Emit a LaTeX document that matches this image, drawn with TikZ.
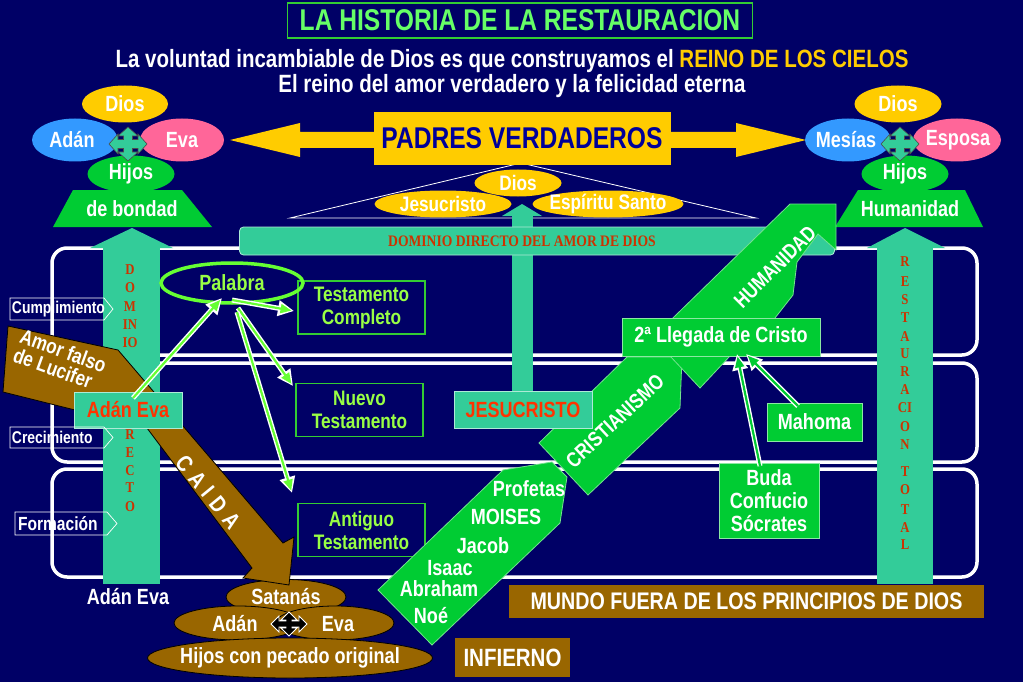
\documentclass[tikz,border=0pt]{standalone}
\usepackage{fontspec}
\setmainfont{Liberation Sans}[FakeStretch=0.82]
\newfontfamily\srf{Liberation Serif}[FakeStretch=0.85]
\usetikzlibrary{shapes.geometric,arrows.meta}
\definecolor{bg}{HTML}{000066}
\definecolor{teal2}{HTML}{33CC99}
\definecolor{grn}{HTML}{00CC33}
\definecolor{yel}{HTML}{FFCC00}
\definecolor{blu}{HTML}{3399FF}
\definecolor{pnk}{HTML}{FF6699}
\definecolor{brn}{HTML}{996600}
\definecolor{lgrn}{HTML}{99FF44}
\definecolor{pgrn}{HTML}{66FF33}
\definecolor{ttl}{HTML}{66FF66}
\definecolor{ttlb}{HTML}{33CC33}
\definecolor{red2}{HTML}{FF3300}
\definecolor{dred}{HTML}{CC3300}
\definecolor{navytxt}{HTML}{000099}
\newcommand\fsz[2]{\fontsize{#1}{#2}\selectfont}
% #1 x, #2 y, #3 half width, #4 half height, #5 shaft, #6 head half width, #7 head length, #8 style
\newcommand\fourway[8]{%
\draw[#8, shift={(#1,#2)}] (#3,0) -- ({#3-#7},-#6) -- ({#3-#7},-#5) -- (#5,-#5) -- (#5,{-#4+#7}) -- (#6,{-#4+#7}) -- (0,-#4) -- (-#6,{-#4+#7}) -- (-#5,{-#4+#7}) -- (-#5,-#5) -- ({-#3+#7},-#5) -- ({-#3+#7},-#6) -- (-#3,0) -- ({-#3+#7},#6) -- ({-#3+#7},#5) -- (-#5,#5) -- (-#5,{#4-#7}) -- (-#6,{#4-#7}) -- (0,#4) -- (#6,{#4-#7}) -- (#5,{#4-#7}) -- (#5,#5) -- ({#3-#7},#5) -- ({#3-#7},#6) -- cycle;}
\begin{document}
\begin{tikzpicture}[x=1pt,y=-1pt,
  every node/.style={inner sep=0pt, outer sep=0pt, text=white, font=\bfseries\fsz{22}{23}},
  band/.style={draw=white, line width=3.5pt, rounded corners=15pt},
  tbox/.style={draw=ttlb, line width=1.2pt, minimum width=127pt, minimum height=53pt, align=center, text=lgrn, font=\bfseries\fsz{21}{23}},
  gbox/.style={fill=grn, draw=white!55!grn, line width=0.8pt},
  tealbox/.style={fill=teal2, draw=white!60!teal2, line width=0.8pt, text=red2},
  colletter/.style={text=dred, font=\srf\bfseries\fsz{15}{15}},
  ell/.style={ellipse, inner sep=0pt},
  brnell/.style={ellipse, fill=brn, draw=black, line width=0.8pt},
  lbl/.style={draw=white, line width=0.7pt},
  warr/.style={draw=white, line width=5pt, -{Triangle[length=16pt,width=15pt]}},
  garr/.style={draw=#1, line width=2.2pt, -{Triangle[length=11pt,width=9pt]}, shorten >=2.5pt},
  gpoly/.style={fill=grn, draw=white!45!grn, line width=0.8pt}
]
\useasboundingbox (0,0) rectangle (1023,682);
\fill[bg] (0,0) rectangle (1023,682);

% title
\node[draw=ttlb, line width=1.5pt, minimum width=465pt, minimum height=35pt, text=ttl, font=\bfseries\fsz{30}{30}] (title) at (520,20.5) {LA HISTORIA DE LA RESTAURACION};
\node[font=\bfseries\fsz{25}{25}] (sub1) at (512,61) {La voluntad incambiable de Dios es que construyamos el \textcolor{yel}{REINO DE LOS CIELOS}};
\node[font=\bfseries\fsz{25}{25}] (sub2) at (512,86) {El reino del amor verdadero y la felicidad eterna};

% bands
\draw[band] (52,248) rectangle (977,355);
\draw[band] (52,363) rectangle (977,462);
\draw[band] (52,469) rectangle (977,577);

% triangle outline
\coordinate (tapex) at (521,163);
\coordinate (tleft) at (290,218);
\coordinate (tright) at (756,218);
\draw[white, line width=0.8pt] (tleft) -- (tapex) -- (tright) -- cycle;

% central teal bar (behind the band)
\fill[teal2] (512,214) rectangle (533,392);
\fill[teal2] (522,204) -- (542,216) -- (502,216) -- cycle;

% dominio band
\node[fill=teal2, draw=white!60!teal2, line width=0.8pt, rounded corners=4pt, minimum width=595pt, minimum height=28pt] (dominio) at (537,241) {};
\node[text=dred, font=\srf\bfseries\fsz{16}{16}] (domtxt) at (522,241) {DOMINIO DIRECTO DEL AMOR DE DIOS};

% trinity ellipses
\node[ell, fill=yel, minimum width=87pt, minimum height=27pt] (diosC) at (518,183) {};
\node[font=\bfseries\fsz{21}{21}] (diosCt) at (diosC) {Dios};
\node[ell, fill=yel, minimum width=137pt, minimum height=27pt] (jesuc) at (443,204) {};
\node[font=\bfseries\fsz{21}{21}] (jesuct) at (jesuc) {Jesucristo};
\node[ell, fill=yel, minimum width=151pt, minimum height=27pt] (espir) at (608,204) {};
\node[font=\bfseries\fsz{21}{21}] (espirt) at (espir) {Espíritu Santo};

% padres verdaderos double arrow
\fill[yel] (230,140) -- (300,123) -- (300,132) -- (736,132) -- (736,123) -- (806,140) -- (736,157) -- (736,148) -- (300,148) -- (300,157) -- cycle;
\node[fill=yel, minimum width=297pt, minimum height=53pt, text=navytxt, font=\bfseries\fsz{30}{30}] (padres) at (522,138.5) {PADRES VERDADEROS};

% left cluster
\node[ell, fill=yel, minimum width=86pt, minimum height=37pt] (diosL) at (125,104) {};
\node (diosLt) at (diosL) {Dios};
\node[ell, fill=blu, minimum width=86pt, minimum height=43pt] (adanL) at (75,140) {};
\node (adanLt) at (72,140) {Adán};
\node[ell, fill=pnk, minimum width=84pt, minimum height=43pt] (evaL) at (182,140) {};
\node (evaLt) at (182,140) {Eva};
\node[ell, fill=grn, minimum width=87pt, minimum height=37pt] (hijosL) at (131,174) {};
\node (hijosLt) at (hijosL) {Hijos};
\fill[grn] (73,190) -- (182,190) -- (212,227) -- (53,227) -- cycle;
\node (bondad) at (132,209) {de bondad};
\fourway{128}{144}{19}{17}{4.5}{10}{9}{fill=teal2, draw=black!70, line width=0.6pt}

% right cluster
\node[ell, fill=yel, minimum width=87pt, minimum height=37pt] (diosR) at (898,104) {};
\node (diosRt) at (diosR) {Dios};
\node[ell, fill=blu, minimum width=86pt, minimum height=43pt] (mesias) at (848,140) {};
\node (mesiast) at (846,140) {Mesías};
\node[ell, fill=pnk, minimum width=88pt, minimum height=43pt] (esposa) at (957,140) {};
\node (esposat) at (958,140) {Esposa};
\node[ell, fill=grn, minimum width=87pt, minimum height=37pt] (hijosR) at (905,174) {};
\node (hijosRt) at (hijosR) {Hijos};
\fill[grn] (858,190) -- (965,190) -- (983,227) -- (835,227) -- cycle;
\node (humR) at (910,209) {Humanidad};
\fourway{900}{144}{19}{17}{4.5}{10}{9}{fill=teal2, draw=black!70, line width=0.6pt}

% columns
\fill[teal2] (103,248) rectangle (160,584);
\fill[teal2] (132,228) -- (173,248) -- (90,248) -- cycle;
\fill[teal2] (877,248) rectangle (933,584);
\fill[teal2] (905,228) -- (945,248) -- (867,248) -- cycle;
\node (adanevaB) at (128,597) {Adán Eva};

% left column letters
\foreach \t/\yy [count=\i] in {D/270,O/288,M/307,IN/325,IO/343,R/435,E/453,C/471,T/488,O/507}
  \node[colletter] (lc\i) at (130,\yy) {\t};
% right column letters
\foreach \t/\yy [count=\i] in {R/262,E/282,S/300,T/318,A/337,U/354,R/372,A/390,CI/408,O/427,N/445,T/472,O/490,T/510,A/528,L/545}
  \node[colletter] (rc\i) at (905,\yy) {\t};

% bottom brown ellipses
\node[brnell, minimum width=120pt, minimum height=35pt] (satanas) at (286,597) {};
\node (satanast) at (286,597) {Satanás};
\node[brnell, minimum width=128pt, minimum height=34pt] (adanB) at (238,623) {};
\node[brnell, minimum width=118pt, minimum height=34pt] (evaB) at (335,623) {};
\node (adanBt) at (235,624) {Adán};
\node (evaBt) at (338,624) {Eva};
\node[brnell, minimum width=285pt, minimum height=40pt] (hijosB) at (290,658) {};
\node (hijosBt) at (290,658) {Hijos con pecado original};
\fourway{289}{624}{18}{12}{3}{8}{8}{fill=black, draw=white, line width=0.8pt}

% amor falso / caida arrow
\draw[fill=brn, draw=black, line width=0.8pt] (8,326) -- (118,350) -- (283,543) -- (294,537) -- (289,585) -- (243,578) -- (252,568) -- (147,428) -- (3,392) -- cycle;
\node[rotate=-20, align=left, font=\bfseries\fsz{21}{20}] (amor) at (60,360) {Amor falso\\de Lucifer};
\node[rotate=-50.6, font=\bfseries\fsz{23}{23}] (caida) at (208,492) {C\hspace{7pt}A\hspace{7pt}I\hspace{7pt}D\hspace{7pt}A};

% Adan Eva box
\node[tealbox, minimum width=108pt, minimum height=36pt] (adanevaBox) at (128,410) {Adán Eva};

% testament boxes
\node[tbox] (tcomp) at (361.5,307.5) {Testamento\\Completo};
\node[tbox] (tnuevo) at (359.5,410) {Nuevo\\Testamento};
\node[tbox] (tantig) at (361.5,530) {Antiguo\\Testamento};

% palabra
\node[ell, draw=pgrn, line width=3.5pt, minimum width=142pt, minimum height=40pt] (palabra) at (232,283) {};
\node[text=lgrn] (palabrat) at (palabra) {Palabra};

% palabra arrows
\coordinate (a1s) at (133,398);
\coordinate (a1e) at (222,298);
\coordinate (a2s) at (232,300);
\coordinate (a2e) at (294,311);
\coordinate (a3s) at (238,308);
\coordinate (a3e) at (293,386);
\coordinate (a4s) at (237,312);
\coordinate (a4e) at (292,493);
\foreach \s/\e in {a1s/a1e,a2s/a2e,a3s/a3e,a4s/a4e}{
  \draw[warr] (\s) -- (\e);
  \draw[garr=pgrn] (\s) -- (\e);
}

% green history arrows
\draw[gpoly] (378,590) -- (503,470) -- (552,462) -- (567,477) -- (560,523) -- (432,645) -- cycle;
\draw[gpoly] (539,443) -- (627,357) -- (682,357) -- (680,408) -- (588,495) -- cycle;
\draw[gpoly] (700,388) -- (670,356) -- (640,350) -- (790,204) -- (836,204) -- (836,250) -- (818,234) -- (797,262) -- (793,295) -- (775,318) -- (760,350) -- (730,356) -- cycle;
\node[rotate=43, font=\bfseries\fsz{21}{21}] (crist) at (615,421) {CRISTIANISMO};
\node[rotate=45, font=\bfseries\fsz{21}{21}] (human) at (775,267) {HUMANIDAD};

% jesucristo box (over the green arrow)
\node[tealbox, minimum width=138pt, minimum height=37pt] (jesbox) at (523,409.5) {JESUCRISTO};

\node[gbox, minimum width=198pt, minimum height=38pt] (llegada) at (721,337) {2ª Llegada de Cristo};
\node[gbox, minimum width=95pt, minimum height=38pt] (mahoma) at (814.5,422) {Mahoma};
\node[gbox, minimum width=100pt, minimum height=75pt, align=center] (buda) at (769,500.5) {Buda\\Confucio\\Sócrates};

\coordinate (b1s) at (760,466);
\coordinate (b1e) at (737,354);
\coordinate (b2s) at (798,406);
\coordinate (b2e) at (746,354);
\foreach \s/\e in {b1s/b1e,b2s/b2e}{
  \draw[warr] (\s) -- (\e);
  \draw[garr=grn] (\s) -- (\e);
}

% patriarchs
\node (profetas) at (529,489) {Profetas};
\node (moises) at (506,517) {MOISES};
\node (jacob) at (483,546) {Jacob};
\node (isaac) at (450,568) {Isaac};
\node (abraham) at (439,589) {Abraham};
\node (noe) at (431,616) {Noé};

% bottom boxes
\node[fill=brn, minimum width=115pt, minimum height=39pt, font=\bfseries\fsz{25}{25}] (infierno) at (512.5,657.5) {INFIERNO};
\node[fill=brn, minimum width=475pt, minimum height=33pt, font=\bfseries\fsz{24}{24}] (mundo) at (746.5,601.5) {MUNDO FUERA DE LOS PRINCIPIOS DE DIOS};

% stage labels
\draw[lbl] (10,298) -- (104,298) -- (113,309) -- (104,320) -- (10,320) -- cycle;
\node[anchor=west, font=\bfseries\fsz{17}{17}] (cump) at (12,309) {Cumplimiento};
\draw[lbl] (10,427) -- (104,427) -- (113,437.5) -- (104,448) -- (10,448) -- cycle;
\node[anchor=west, font=\bfseries\fsz{17}{17}] (crec) at (12,437.5) {Crecimiento};
\draw[lbl] (15,512) -- (107,512) -- (117,523.5) -- (107,535) -- (15,535) -- cycle;
\node[anchor=west, font=\bfseries\fsz{19}{19}] (form) at (18,523.5) {Formación};
\end{tikzpicture}
\end{document}
